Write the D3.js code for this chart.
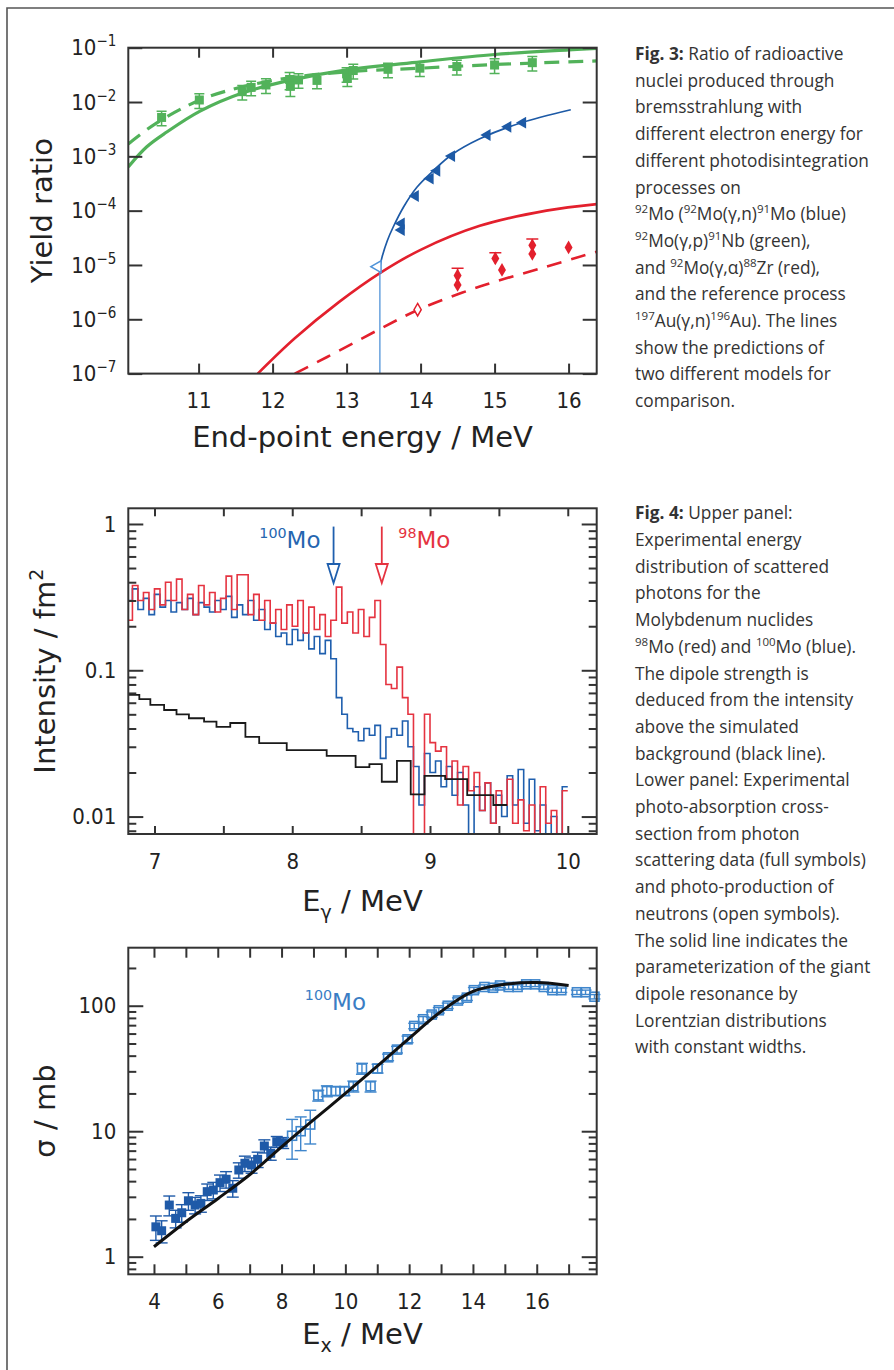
<!DOCTYPE html>
<html>
<head>
<meta charset="utf-8">
<script src="https://cdn.jsdelivr.net/npm/d3@7"></script>
<style>
  body { margin: 0; background: #fff; }
  svg { display: block; }
</style>
</head>
<body>
<svg id="fig"></svg>
<script>
// ---------- Fig. 3 : yield ratios vs end-point energy ----------
const greenX = [10.50, 11.01, 11.59, 11.71, 11.91, 12.23, 12.24, 12.35, 12.60, 13.00, 13.01, 13.09, 13.56, 13.99, 14.49, 15.00, 15.51];
const greenY = [5.2e-3, 1.09e-2, 1.55e-2, 1.86e-2, 2.06e-2, 2.6e-2, 1.95e-2, 2.55e-2, 2.5e-2, 3.3e-2, 2.75e-2, 3.8e-2, 4.0e-2, 4.2e-2, 4.5e-2, 4.8e-2, 5.3e-2];
const greenErr = [0.3, 0.3, 0.3, 0.3, 0.3, 0.35, 0.35, 0.3, 0.3, 0.3, 0.3, 0.3, 0.3, 0.3, 0.3, 0.3, 0.3];
const greenSolidX = [10.05, 10.3, 10.57, 11.02, 11.6, 12.23, 13.0, 14.0, 15.0, 16.0, 16.38];
const greenSolidY = [6.4e-4, 1.5e-3, 2.8e-3, 6.8e-3, 1.48e-2, 2.5e-2, 3.9e-2, 5.5e-2, 7.5e-2, 9.1e-2, 9.7e-2];
const greenDashX = [10.05, 10.43, 11.02, 11.59, 12.23, 13.0, 14.0, 15.0, 16.38];
const greenDashY = [1.69e-3, 4.1e-3, 1.09e-2, 1.9e-2, 2.8e-2, 3.6e-2, 4.2e-2, 4.9e-2, 5.7e-2];

const blueX = [13.74, 13.74, 13.93, 14.13, 14.22, 14.42, 14.90, 15.18, 15.38];
const blueY = [5.8e-5, 4.4e-5, 1.86e-4, 3.9e-4, 5.4e-4, 1.01e-3, 2.47e-3, 3.5e-3, 4.16e-3];
const blueOpenX = [13.42];
const blueOpenY = [9.3e-6];
const blueCurveX = [13.44, 13.48, 13.55, 13.63, 13.77, 13.95, 14.17, 14.42, 14.8, 15.34, 16.03];
const blueCurveY = [7.9e-6, 1.41e-5, 2.8e-5, 5e-5, 1.17e-4, 2.7e-4, 5.4e-4, 1.07e-3, 2.1e-3, 4.07e-3, 7.2e-3];
const blueThreshX = [13.45, 13.45];
const blueThreshY = [1e-7, 8.5e-6];

const redX = [14.5, 14.5, 15.01, 15.10, 15.51, 15.51, 16.0];
const redY = [6.4e-6, 4.3e-6, 1.32e-5, 8.1e-6, 2.3e-5, 1.6e-5, 2.1e-5];
const redHi = [8.7e-6, null, 1.68e-5, null, 3.0e-5, null, null];
const redLo = [4.8e-6, null, 1.05e-5, null, 1.75e-5, null, null];
const redOpenX = [13.96];
const redOpenY = [1.5e-6];
const redSolidX = [11.8, 12.3, 12.9, 13.45, 14.0, 14.8, 15.7, 16.38];
const redSolidY = [1e-7, 4.47e-7, 2.09e-6, 7.08e-6, 1.9e-5, 5.25e-5, 1.0e-4, 1.32e-4];
const redDashX = [12.3, 12.73, 13.44, 13.97, 14.8, 15.7, 16.38];
const redDashY = [1e-7, 2.0e-7, 6.5e-7, 1.5e-6, 4e-6, 9.3e-6, 1.75e-5];

const fig3XTicks = [11, 12, 13, 14, 15, 16];
const fig3YTicks = [1e-7, 1e-6, 1e-5, 1e-4, 1e-3, 1e-2, 1e-1];

// ---------- Fig. 4 upper : scattered photon spectra ----------
const specStart = 6.80;
const specStep = 0.04;
const mo98 = [0.22,0.38,0.30,0.34,0.26,0.36,0.28,0.40,0.30,0.42,
  0.26,0.33,0.24,0.38,0.28,0.34,0.25,0.31,0.44,0.26,
  0.45,0.45,0.24,0.33,0.22,0.30,0.21,0.26,0.19,0.28,
  0.20,0.30,0.18,0.27,0.19,0.24,0.17,0.22,0.37,0.21,
  0.25,0.18,0.26,0.17,0.23,0.30,0.15,0.08,0.075,0.105,
  0.065,0.05,0.005,0.005,0.05,0.032,0.028,0.03,0.018,0.024,
  0.012,0.022,0.015,0.02,0.011,0.017,0.009,0.015,0.012,0.018,
  0.009,0.013,0.008,0.012,0.005,0.016,0.009,0.011,0.006,0.015];
const mo100 = [0.30,0.36,0.26,0.31,0.24,0.33,0.27,0.30,0.25,0.29,
  0.26,0.31,0.24,0.29,0.27,0.25,0.30,0.26,0.32,0.23,
  0.28,0.24,0.30,0.22,0.26,0.19,0.21,0.17,0.18,0.15,
  0.19,0.16,0.18,0.14,0.17,0.13,0.16,0.12,0.065,0.05,
  0.04,0.038,0.033,0.04,0.036,0.042,0.025,0.035,0.04,0.036,
  0.045,0.03,0.022,0.012,0.027,0.02,0.024,0.016,0.022,0.014,
  0.02,0.012,0.005,0.016,0.011,0.017,0.009,0.014,0.01,0.019,
  0.012,0.021,0.009,0.018,0.008,0.012,0.006,0.01,0.007,0.016];
const bgEdges = [6.80, 6.89, 6.97, 7.07, 7.16, 7.25, 7.36, 7.45, 7.55, 7.66, 7.76, 7.96, 8.25, 8.46, 8.56, 8.65, 8.76, 8.86, 8.96, 9.11, 9.27, 9.46, 9.56];
const bgValues = [0.068, 0.0635, 0.058, 0.0535, 0.050, 0.047, 0.0446, 0.041, 0.0436, 0.035, 0.0318, 0.0285, 0.026, 0.0218, 0.0228, 0.0173, 0.024, 0.0142, 0.019, 0.018, 0.014, 0.012];
const arrowE = { mo100: 8.30, mo98: 8.65 };
const fig4XTicks = [7, 7.5, 8, 8.5, 9, 9.5, 10];

// ---------- Fig. 4 lower : photo-absorption cross section ----------
const fullX = [4.06, 4.24, 4.48, 4.68, 4.87, 5.08, 5.29, 5.47, 5.67, 5.86, 6.07, 6.26, 6.47, 6.66, 6.85, 7.06, 7.25, 7.46, 7.66, 7.85, 8.05];
const fullY = [1.73, 1.61, 2.58, 2.02, 2.24, 2.79, 2.58, 2.66, 3.30, 3.40, 3.89, 4.14, 3.51, 4.91, 5.55, 5.38, 5.97, 7.62, 6.67, 8.25, 8.09];
const fullErr = [0.22, 0.2, 0.18, 0.16, 0.16, 0.16, 0.15, 0.15, 0.15, 0.15, 0.15, 0.15, 0.15, 0.14, 0.14, 0.14, 0.14, 0.12, 0.12, 0.1, 0.1];
const openX = [8.33, 8.60, 8.90, 9.15, 9.42, 9.70, 9.97, 10.25, 10.52, 10.79, 11.01, 11.34, 11.62, 11.95, 12.16, 12.44, 12.71, 12.93, 13.21, 13.53, 13.81, 14.03, 14.36, 14.63, 14.85, 15.12, 15.40, 15.67, 15.95, 16.22, 16.49, 16.77, 17.26, 17.53, 17.81];
const openY = [9.2, 10.0, 11.3, 19.3, 20.9, 20.9, 20.9, 22.8, 31.6, 22.8, 31.6, 38.8, 44.7, 54, 69, 78, 85, 92, 100, 110, 116, 133, 141, 139, 145, 141, 141, 148, 148, 141, 133, 133, 128, 128, 118];
const openErr = [0.35, 0.3, 0.3, 0.1, 0.1, 0.08, 0.08, 0.1, 0.1, 0.1, 0.08, 0.06, 0.06, 0.06, 0.05, 0.05, 0.05, 0.05, 0.05, 0.05, 0.05, 0.05, 0.04, 0.04, 0.04, 0.04, 0.04, 0.04, 0.04, 0.04, 0.04, 0.04, 0.04, 0.04, 0.04];
const fitX = [4, 5, 6, 7, 8, 9, 10, 11, 12, 13, 14, 15, 16, 17];
const fitY = [1.2, 1.9, 2.9, 4.5, 7.5, 12.3, 20, 33, 55, 90, 130, 148, 153, 145];
const lowXTicks = [4, 5, 6, 7, 8, 9, 10, 11, 12, 13, 14, 15, 16, 17];

// ---------- captions ----------
const caption3 = [
  '**Fig. 3:** Ratio of radioactive',
  'nuclei produced through',
  'bremsstrahlung with',
  'different electron energy for',
  'different photodisintegration',
  'processes on',
  '^{92}Mo (^{92}Mo(γ,n)^{91}Mo (blue)',
  '^{92}Mo(γ,p)^{91}Nb (green),',
  'and ^{92}Mo(γ,α)^{88}Zr (red),',
  'and the reference process',
  '^{197}Au(γ,n)^{196}Au). The lines',
  'show the predictions of',
  'two different models for',
  'comparison.'
];
const caption4 = [
  '**Fig. 4:** Upper panel:',
  'Experimental energy',
  'distribution of scattered',
  'photons for the',
  'Molybdenum nuclides',
  '^{98}Mo (red) and ^{100}Mo (blue).',
  'The dipole strength is',
  'deduced from the intensity',
  'above the simulated',
  'background (black line).',
  'Lower panel: Experimental',
  'photo-absorption cross-',
  'section from photon',
  'scattering data (full symbols)',
  'and photo-production of',
  'neutrons (open symbols).',
  'The solid line indicates the',
  'parameterization of the giant',
  'dipole resonance by',
  'Lorentzian distributions',
  'with constant widths.'
];

// ---------- layout ----------
const W = 894, H = 1370;
const L = 128.3, R = 596.7;
const tickFont = '"DejaVu Sans Condensed", "Liberation Sans Narrow", Roboto, sans-serif';
const titleFont = '"DejaVu Sans", sans-serif';
const capFont = '"Open Sans", "Noto Sans", sans-serif';
const green = '#52b25a', blue3 = '#1d5aa6', lightBlue = '#4f93d8', red = '#e3202d';
const specRed = '#e53340', specBlue = '#1f5fae';

const svg = d3.select('#fig').attr('width', W).attr('height', H);
svg.append('rect').attr('width', W).attr('height', H).attr('fill', '#fff');
svg.append('path').attr('d', `M7,${H} V8 H${W}`).attr('fill', 'none').attr('stroke', '#555').attr('stroke-width', 1.6);

const zip = (xs, ys) => xs.map((v, i) => [v, ys[i]]);
const smooth = d3.curveCatmullRom.alpha(0.5);
const lineGen = (x, y, curve) => d3.line().x(d => x(d[0])).y(d => y(d[1])).curve(curve || smooth);

const styleAxis = g => {
  g.select('.domain').remove();
  g.selectAll('.tick line').attr('stroke', '#333').attr('stroke-width', 2);
  g.selectAll('.tick text').attr('fill', '#222').attr('font-family', tickFont).attr('font-size', 22);
};

const frame = (top, bottom) => svg.append('rect')
  .attr('x', L).attr('y', top).attr('width', R - L).attr('height', bottom - top)
  .attr('fill', 'none').attr('stroke', '#333').attr('stroke-width', 2);

const clip = (id, top, bottom) => svg.append('clipPath').attr('id', id)
  .append('rect').attr('x', L).attr('y', top).attr('width', R - L).attr('height', bottom - top);

const isDecade = t => Math.abs(Math.log10(t) - Math.round(Math.log10(t))) < 1e-6;

const logAxes = (x, y, top, bottom, majors, fmt) => {
  const minors = y.ticks().filter(t => !isDecade(t));
  svg.append('g').attr('transform', `translate(${L},0)`)
    .call(d3.axisLeft(y).tickValues(majors).tickSize(-15).tickPadding(12).tickFormat(fmt)).call(styleAxis);
  svg.append('g').attr('transform', `translate(${L},0)`)
    .call(d3.axisLeft(y).tickValues(minors).tickSize(-8).tickFormat('')).call(styleAxis);
  svg.append('g').attr('transform', `translate(${R},0)`)
    .call(d3.axisRight(y).tickValues(majors).tickSize(-15).tickFormat('')).call(styleAxis);
  svg.append('g').attr('transform', `translate(${R},0)`)
    .call(d3.axisRight(y).tickValues(minors).tickSize(-8).tickFormat('')).call(styleAxis);
};

const yTitle = (cx, cy, build) => {
  const t = svg.append('text').attr('transform', `translate(${cx},${cy}) rotate(-90)`)
    .attr('text-anchor', 'middle').attr('font-family', titleFont).attr('font-size', 29).attr('fill', '#222');
  build(t);
};
const xTitle = (cy, build) => {
  const t = svg.append('text').attr('x', (L + R) / 2).attr('y', cy)
    .attr('text-anchor', 'middle').attr('font-family', titleFont).attr('font-size', 29).attr('fill', '#222');
  build(t);
};

// ================= Fig. 3 =================
const T3 = 47.7, B3 = 373.6;
const x3 = d3.scaleLinear().domain([10.05, 16.38]).range([L, R]);
const y3 = d3.scaleLog().domain([1e-7, 1e-1]).range([B3, T3]);
clip('c3', T3, B3);
const p3 = svg.append('g').attr('clip-path', 'url(#c3)');
const l3 = lineGen(x3, y3);

p3.append('path').datum(zip(greenSolidX, greenSolidY)).attr('d', l3)
  .attr('fill', 'none').attr('stroke', green).attr('stroke-width', 3.2);
p3.append('path').datum(zip(greenDashX, greenDashY)).attr('d', l3)
  .attr('fill', 'none').attr('stroke', green).attr('stroke-width', 3.2).attr('stroke-dasharray', '15,9');
p3.append('path').datum(zip(redSolidX, redSolidY)).attr('d', l3)
  .attr('fill', 'none').attr('stroke', red).attr('stroke-width', 2.6);
p3.append('path').datum(zip(redDashX, redDashY)).attr('d', l3)
  .attr('fill', 'none').attr('stroke', red).attr('stroke-width', 2.6).attr('stroke-dasharray', '15,10');
p3.append('path').datum(zip(blueThreshX, blueThreshY)).attr('d', lineGen(x3, y3, d3.curveLinear))
  .attr('fill', 'none').attr('stroke', lightBlue).attr('stroke-width', 1.3);
p3.append('path').datum(zip(blueCurveX, blueCurveY)).attr('d', l3)
  .attr('fill', 'none').attr('stroke', blue3).attr('stroke-width', 1.7);

// green squares with error bars
const gPts = greenX.map((v, i) => ({ x: v, y: greenY[i], e: greenErr[i] }));
const gErr = p3.append('g').attr('stroke', green).attr('stroke-width', 1.5);
gPts.forEach(d => {
  const yHi = y3(d.y * (1 + d.e)), yLo = y3(d.y * (1 - d.e)), cx = x3(d.x);
  gErr.append('line').attr('x1', cx).attr('x2', cx).attr('y1', yHi).attr('y2', yLo);
  gErr.append('line').attr('x1', cx - 5).attr('x2', cx + 5).attr('y1', yHi).attr('y2', yHi);
  gErr.append('line').attr('x1', cx - 5).attr('x2', cx + 5).attr('y1', yLo).attr('y2', yLo);
});
p3.append('g').selectAll('rect').data(gPts).join('rect')
  .attr('x', d => x3(d.x) - 4.5).attr('y', d => y3(d.y) - 4.5)
  .attr('width', 9).attr('height', 9).attr('fill', green);

// red diamonds
const rPts = redX.map((v, i) => ({ x: v, y: redY[i], hi: redHi[i], lo: redLo[i] }));
rPts.filter(d => d.hi).forEach(d => {
  const cx = x3(d.x);
  p3.append('line').attr('x1', cx).attr('x2', cx).attr('y1', y3(d.hi)).attr('y2', y3(d.lo))
    .attr('stroke', red).attr('stroke-width', 1.5);
  p3.append('line').attr('x1', cx - 6).attr('x2', cx + 6).attr('y1', y3(d.hi)).attr('y2', y3(d.hi))
    .attr('stroke', red).attr('stroke-width', 1.5);
});
p3.append('g').selectAll('path').data(rPts).join('path')
  .attr('d', d3.symbol(d3.symbolDiamond, 55))
  .attr('transform', d => `translate(${x3(d.x)},${y3(d.y)})`).attr('fill', red);
p3.append('g').selectAll('path').data(zip(redOpenX, redOpenY)).join('path')
  .attr('d', d3.symbol(d3.symbolDiamond, 45))
  .attr('transform', d => `translate(${x3(d[0])},${y3(d[1])})`)
  .attr('fill', '#fff').attr('stroke', red).attr('stroke-width', 1.5);

// blue triangles (pointing left)
p3.append('g').selectAll('path').data(zip(blueX, blueY)).join('path')
  .attr('d', d3.symbol(d3.symbolTriangle, 60))
  .attr('transform', d => `translate(${x3(d[0])},${y3(d[1])}) rotate(-90)`).attr('fill', blue3);
p3.append('g').selectAll('path').data(zip(blueOpenX, blueOpenY)).join('path')
  .attr('d', d3.symbol(d3.symbolTriangle, 60))
  .attr('transform', d => `translate(${x3(d[0])},${y3(d[1])}) rotate(-90)`)
  .attr('fill', '#fff').attr('stroke', lightBlue).attr('stroke-width', 1.5);

frame(T3, B3);
svg.append('g').attr('transform', `translate(0,${B3})`)
  .call(d3.axisBottom(x3).tickValues(fig3XTicks).tickSize(-10).tickPadding(19).tickFormat(d3.format('d'))).call(styleAxis);
svg.append('g').attr('transform', `translate(0,${T3})`)
  .call(d3.axisTop(x3).tickValues(fig3XTicks).tickSize(-10).tickFormat('')).call(styleAxis);
const yAx3 = svg.append('g').attr('transform', `translate(${L},0)`)
  .call(d3.axisLeft(y3).tickValues(fig3YTicks).tickSize(-14).tickPadding(12).tickFormat('')).call(styleAxis);
yAx3.selectAll('.tick text').each(function (d) {
  const t = d3.select(this);
  t.append('tspan').text('10');
  t.append('tspan').attr('font-size', 15).attr('dy', -9).text('−' + Math.round(-Math.log10(d)));
});
svg.append('g').attr('transform', `translate(${R},0)`)
  .call(d3.axisRight(y3).tickValues(fig3YTicks).tickSize(-14).tickFormat('')).call(styleAxis);
yTitle(52, (T3 + B3) / 2, t => t.text('Yield ratio'));
xTitle(447, t => t.text('End-point energy / MeV'));

// ================= Fig. 4 upper =================
const T4 = 508.3, B4 = 834;
const x4 = d3.scaleLinear().domain([6.81, 10.21]).range([L, R]);
const y4 = d3.scaleLog().domain([0.0076, 1.28]).range([B4, T4]);
clip('c4', T4, B4);
const p4 = svg.append('g').attr('clip-path', 'url(#c4)');
const step4 = lineGen(x4, y4, d3.curveStepAfter);
const toSteps = vals => {
  const pts = vals.map((v, i) => [specStart + i * specStep, v]);
  pts.push([specStart + vals.length * specStep, vals[vals.length - 1]]);
  return pts;
};
p4.append('path').datum(toSteps(mo100)).attr('d', step4)
  .attr('fill', 'none').attr('stroke', specBlue).attr('stroke-width', 1.6);
p4.append('path').datum(toSteps(mo98)).attr('d', step4)
  .attr('fill', 'none').attr('stroke', specRed).attr('stroke-width', 1.6);
const bgPts = bgValues.map((v, i) => [bgEdges[i], v]);
bgPts.push([bgEdges[bgEdges.length - 1], bgValues[bgValues.length - 1]]);
p4.append('path').datum(bgPts).attr('d', step4)
  .attr('fill', 'none').attr('stroke', '#1a1a1a').attr('stroke-width', 1.8);

// arrows and labels
const arrow = (e, col) => {
  const cx = x4(e), yTop = y4(0.96), yTip = y4(0.395);
  svg.append('line').attr('x1', cx).attr('x2', cx).attr('y1', yTop).attr('y2', yTip - 18)
    .attr('stroke', col).attr('stroke-width', 1.8);
  svg.append('path').attr('d', `M${cx - 6},${yTip - 19} L${cx + 6},${yTip - 19} L${cx},${yTip} Z`)
    .attr('fill', '#fff').attr('stroke', col).attr('stroke-width', 1.8);
};
arrow(arrowE.mo100, specBlue);
arrow(arrowE.mo98, specRed);
const isoLabel = (x, y, anchor, mass, col, size) => {
  const t = svg.append('text').attr('x', x).attr('y', y).attr('text-anchor', anchor)
    .attr('font-family', titleFont).attr('font-size', size).attr('fill', col);
  t.append('tspan').attr('font-size', size * 0.62).attr('dy', -10).text(mass);
  t.append('tspan').attr('dy', 10).text('Mo');
};
isoLabel(x4(8.205), y4(0.685), 'end', '100', '#2566b0', 23);
isoLabel(x4(8.77), y4(0.685), 'start', '98', specRed, 23);

frame(T4, B4);
svg.append('g').attr('transform', `translate(0,${B4})`)
  .call(d3.axisBottom(x4).tickValues(fig4XTicks).tickSize(-8).tickPadding(19)
    .tickFormat(d => Number.isInteger(d) ? d : '')).call(styleAxis);
svg.append('g').attr('transform', `translate(0,${T4})`)
  .call(d3.axisTop(x4).tickValues(fig4XTicks).tickSize(-8).tickFormat('')).call(styleAxis);
logAxes(x4, y4, T4, B4, [0.01, 0.1, 1], d => String(d));
yTitle(55, (T4 + B4) / 2, t => {
  t.append('tspan').text('Intensity / fm');
  t.append('tspan').attr('font-size', 19).attr('dy', -12).text('2');
});
xTitle(911, t => {
  t.append('tspan').text('E');
  t.append('tspan').attr('font-size', 19).attr('dy', 8).text('γ');
  t.append('tspan').attr('dy', -8).text(' / MeV');
});

// ================= Fig. 4 lower =================
const T5 = 947.7, B5 = 1274.3;
const x5 = d3.scaleLinear().domain([3.195, 17.88]).range([L, R]);
const y5 = d3.scaleLog().domain([0.724, 290]).range([B5, T5]);
clip('c5', T5, B5);
const p5 = svg.append('g');
const errBars = (xs, ys, es, col) => {
  const g = p5.append('g').attr('stroke', col).attr('stroke-width', 1.4);
  xs.forEach((v, i) => {
    const cx = x5(v), yHi = y5(ys[i] * (1 + es[i])), yLo = y5(ys[i] * (1 - es[i]));
    g.append('line').attr('x1', cx).attr('x2', cx).attr('y1', yHi).attr('y2', yLo);
    g.append('line').attr('x1', cx - 6).attr('x2', cx + 6).attr('y1', yHi).attr('y2', yHi);
    g.append('line').attr('x1', cx - 6).attr('x2', cx + 6).attr('y1', yLo).attr('y2', yLo);
  });
};
errBars(fullX, fullY, fullErr, '#1f5aa8');
errBars(openX, openY, openErr, '#3f86cc');
p5.append('g').selectAll('rect').data(zip(fullX, fullY)).join('rect')
  .attr('x', d => x5(d[0]) - 4.5).attr('y', d => y5(d[1]) - 4.5)
  .attr('width', 9).attr('height', 9).attr('fill', '#1f5aa8');
p5.append('g').selectAll('rect').data(zip(openX, openY)).join('rect')
  .attr('x', d => x5(d[0]) - 4.5).attr('y', d => y5(d[1]) - 4.5)
  .attr('width', 9).attr('height', 9).attr('fill', 'none').attr('stroke', '#3f86cc').attr('stroke-width', 1.6);
svg.append('g').attr('clip-path', 'url(#c5)').append('path')
  .datum(zip(fitX, fitY)).attr('d', lineGen(x5, y5))
  .attr('fill', 'none').attr('stroke', '#111').attr('stroke-width', 3);
isoLabel(x5(8.73), y5(92.4), 'start', '100', '#3a7dc4', 23);

frame(T5, B5);
svg.append('g').attr('transform', `translate(0,${B5})`)
  .call(d3.axisBottom(x5).tickValues(lowXTicks).tickSize(-10).tickPadding(19)
    .tickFormat(d => d % 2 === 0 && d < 17 ? d : '')).call(styleAxis);
svg.append('g').attr('transform', `translate(0,${T5})`)
  .call(d3.axisTop(x5).tickValues(lowXTicks).tickSize(-10).tickFormat('')).call(styleAxis);
logAxes(x5, y5, T5, B5, [1, 10, 100], d => String(d));
yTitle(55, (T5 + B5) / 2, t => t.text('σ / mb'));
xTitle(1344, t => {
  t.append('tspan').text('E');
  t.append('tspan').attr('font-size', 19).attr('dy', 8).text('x');
  t.append('tspan').attr('dy', -8).text(' / MeV');
});

// ================= captions =================
const caption = (lines, x, y0) => {
  lines.forEach((ln, i) => {
    const t = svg.append('text').attr('x', x).attr('y', y0 + i * 26.7)
      .attr('font-family', capFont).attr('font-size', 17.3).attr('fill', '#333');
    const parts = ln.split(/(\^\{[^}]*\}|\*\*[^*]*\*\*)/).filter(s => s);
    let raised = false;
    parts.forEach(p => {
      const ts = t.append('tspan');
      if (p.startsWith('^{')) {
        ts.text(p.slice(2, -1)).attr('font-size', 11.5);
        if (!raised) ts.attr('dy', -7);
        raised = true;
      } else {
        if (raised) ts.attr('dy', 7);
        raised = false;
        if (p.startsWith('**')) ts.text(p.slice(2, -2)).attr('font-weight', 'bold');
        else ts.text(p);
      }
    });
  });
};
caption(caption3, 635, 60);
caption(caption4, 635, 519.3);
</script>
</body>
</html>
